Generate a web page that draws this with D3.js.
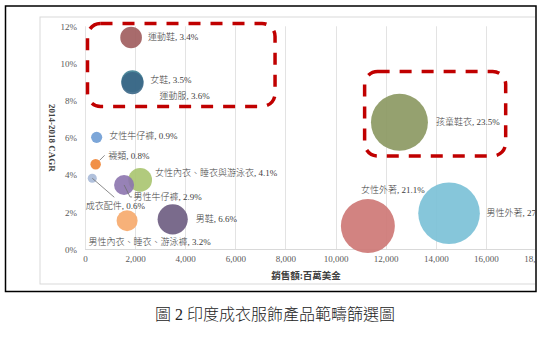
<!DOCTYPE html>
<html><head><meta charset="utf-8">
<script src="https://cdn.jsdelivr.net/npm/d3@7"></script>
<style>
html,body{margin:0;padding:0;background:#fff;}
svg{display:block;}
</style></head>
<body>
<svg id="c" width="542" height="342"></svg>
<script>
// ---- data ----
const names = ["運動鞋","女鞋","運動服","女性牛仔褲","襪類","成衣配件","女性內衣、睡衣與游泳衣","男性牛仔褲","男性內衣、睡衣、游泳褲","男鞋","孩童鞋衣","女性外著","男性外著"];
const sales = [1840, 1890, 1895, 465, 425, 290, 2200, 1560, 1680, 3500, 12550, 11290, 14530];
const cagr  = [11.4, 9.05, 8.95, 6.03, 4.58, 3.83, 3.74, 3.47, 1.55, 1.62, 6.84, 1.26, 1.95];
const share = [3.4, 3.5, 3.6, 0.9, 0.8, 0.6, 4.1, 2.9, 3.2, 6.6, 23.5, 21.1, 27.5];
const shareText = ["3.4%","3.5%","3.6%","0.9%","0.8%","0.6%","4.1%","2.9%","3.2%","6.6%","23.5%","21.1%","27.5%"];
const colors = ["#9e5b5c","#3d7e92","#3b6787","#6e9cd4","#ef8434","#a9bad8","#a8c46f","#8c74ae","#f6a96a","#6c5b7f","#89975f","#cd7573","#79c0d6"];
const xTicks = [0,2000,4000,6000,8000,10000,12000,14000,16000,18000];
const yTicks = [0,2,4,6,8,10,12];
// label offsets (px) relative to bubble centre
const labelDx = [17, 18, 27, 12.5, 12.5, -6.5, 15, 9.5, -38.5, 23, 36.5, -7, 37.5];
const labelDy = [0.6, 0, 14, 0, -7, 28.4, -6, 13.3, 22.6, 0.7, 1, -35.3, 1];
// highlight boxes in data coordinates [x0,x1,y0,y1]
const boxes = [[100, 7585, 7.69, 12.15], [11160, 16790, 5.03, 9.57]];

const svg = d3.select("#c");
const serif = "'Times New Roman','Liberation Serif','Noto Sans CJK TC',serif";

svg.append("defs").append("clipPath").attr("id","clip")
  .append("rect").attr("x",6).attr("y",6.5).attr("width",529).attr("height",284);
const g = svg.append("g").attr("clip-path","url(#clip)");

// chart area border
g.append("rect").attr("x",40).attr("y",17).attr("width",540).attr("height",267)
  .attr("fill","none").attr("stroke","#d9d9d9").attr("stroke-width",1);

const x = d3.scaleLinear().domain([0,18000]).range([85,536]);
const y = d3.scaleLinear().domain([0,12]).range([249.5,26.3]);
const r = d3.scaleSqrt().domain([0,27.5]).range([0,30.8]);

// vertical gridlines
g.append("g").selectAll("line").data(xTicks).join("line")
  .attr("x1",d=>Math.round(x(d))+0.5).attr("x2",d=>Math.round(x(d))+0.5)
  .attr("y1",y(12)).attr("y2",y(0))
  .attr("stroke","#e3e3e3").attr("stroke-width",1);
// baseline
g.append("line").attr("x1",x(0)).attr("x2",x(18000)).attr("y1",y(0)).attr("y2",y(0))
  .attr("stroke","#d9d9d9").attr("stroke-width",1);

// axes
const xa = g.append("g").attr("transform",`translate(0,${y(0)})`)
  .call(d3.axisBottom(x).tickValues(xTicks).tickSize(0).tickPadding(6).tickFormat(d3.format(",")));
xa.select(".domain").remove();
xa.selectAll("text").attr("font-family",serif).attr("font-size",9).attr("fill","#595959");

const ya = g.append("g").attr("transform",`translate(${x(0)},0)`)
  .call(d3.axisLeft(y).tickValues(yTicks).tickSize(0).tickPadding(8).tickFormat(d=>d+"%"));
ya.select(".domain").remove();
ya.selectAll("text").attr("font-family",serif).attr("font-size",9).attr("fill","#595959");

// axis titles
g.append("text").attr("x",306).attr("y",279).attr("text-anchor","middle")
  .attr("font-family",serif).attr("font-size",9.5).attr("font-weight","bold").attr("fill","#404040")
  .text("銷售額:百萬美金");
g.append("text").attr("transform",`translate(49,${(y(0)+y(12))/2}) rotate(90)`)
  .attr("text-anchor","middle").attr("font-family",serif).attr("font-size",9)
  .attr("font-weight","bold").attr("fill","#404040").text("2014-2018 CAGR");

// data
const data = names.map((n,i)=>({n, x:sales[i], y:cagr[i], s:share[i], t:shareText[i], c:colors[i], dx:labelDx[i], dy:labelDy[i]}));

const leaders = {"襪類":[[4,-4],[9,-9]], "成衣配件":[[0,0],[22,19]], "男性牛仔褲":[[0,0],[6,12],[8,12]]};

g.append("g").selectAll("circle").data(data).join("circle")
  .attr("cx",d=>x(d.x)).attr("cy",d=>y(d.y)).attr("r",d=>r(d.s))
  .attr("fill",d=>d.c).attr("fill-opacity",0.9);

data.forEach(d=>{
  if(leaders[d.n]){
    const pts = leaders[d.n].map(p=>[x(d.x)+p[0], y(d.y)+p[1]]);
    g.append("path").attr("d",d3.line()(pts)).attr("fill","none")
      .attr("stroke","#6f6f6f").attr("stroke-width",0.8);
  }
});

g.append("g").selectAll("text").data(data).join("text")
  .attr("x",d=>x(d.x)+d.dx).attr("y",d=>y(d.y)+d.dy)
  .attr("dominant-baseline","middle")
  .attr("font-family",serif).attr("font-size",9).attr("font-weight",300).attr("fill","#404040")
  .text(d=>`${d.n}, ${d.t}`);

// highlight boxes
g.append("g").selectAll("rect").data(boxes).join("rect")
  .attr("x",d=>x(d[0])).attr("y",d=>y(d[3]))
  .attr("width",d=>x(d[1])-x(d[0])).attr("height",d=>y(d[2])-y(d[3]))
  .attr("rx",13).attr("ry",13)
  .attr("fill","none").attr("stroke","#c00000").attr("stroke-width",3.5)
  .attr("stroke-dasharray","12,10");

// outer frame
svg.append("rect").attr("x",5.5).attr("y",6).attr("width",530.5).attr("height",285.5)
  .attr("fill","none").attr("stroke","#000").attr("stroke-width",1.5);

// caption
svg.append("text").attr("x",155).attr("y",316).attr("dominant-baseline","middle")
  .attr("font-family",serif).attr("font-size",16).attr("font-weight",300).attr("fill","#222")
  .text("圖 2 印度成衣服飾產品範疇篩選圖");
</script>
</body></html>
